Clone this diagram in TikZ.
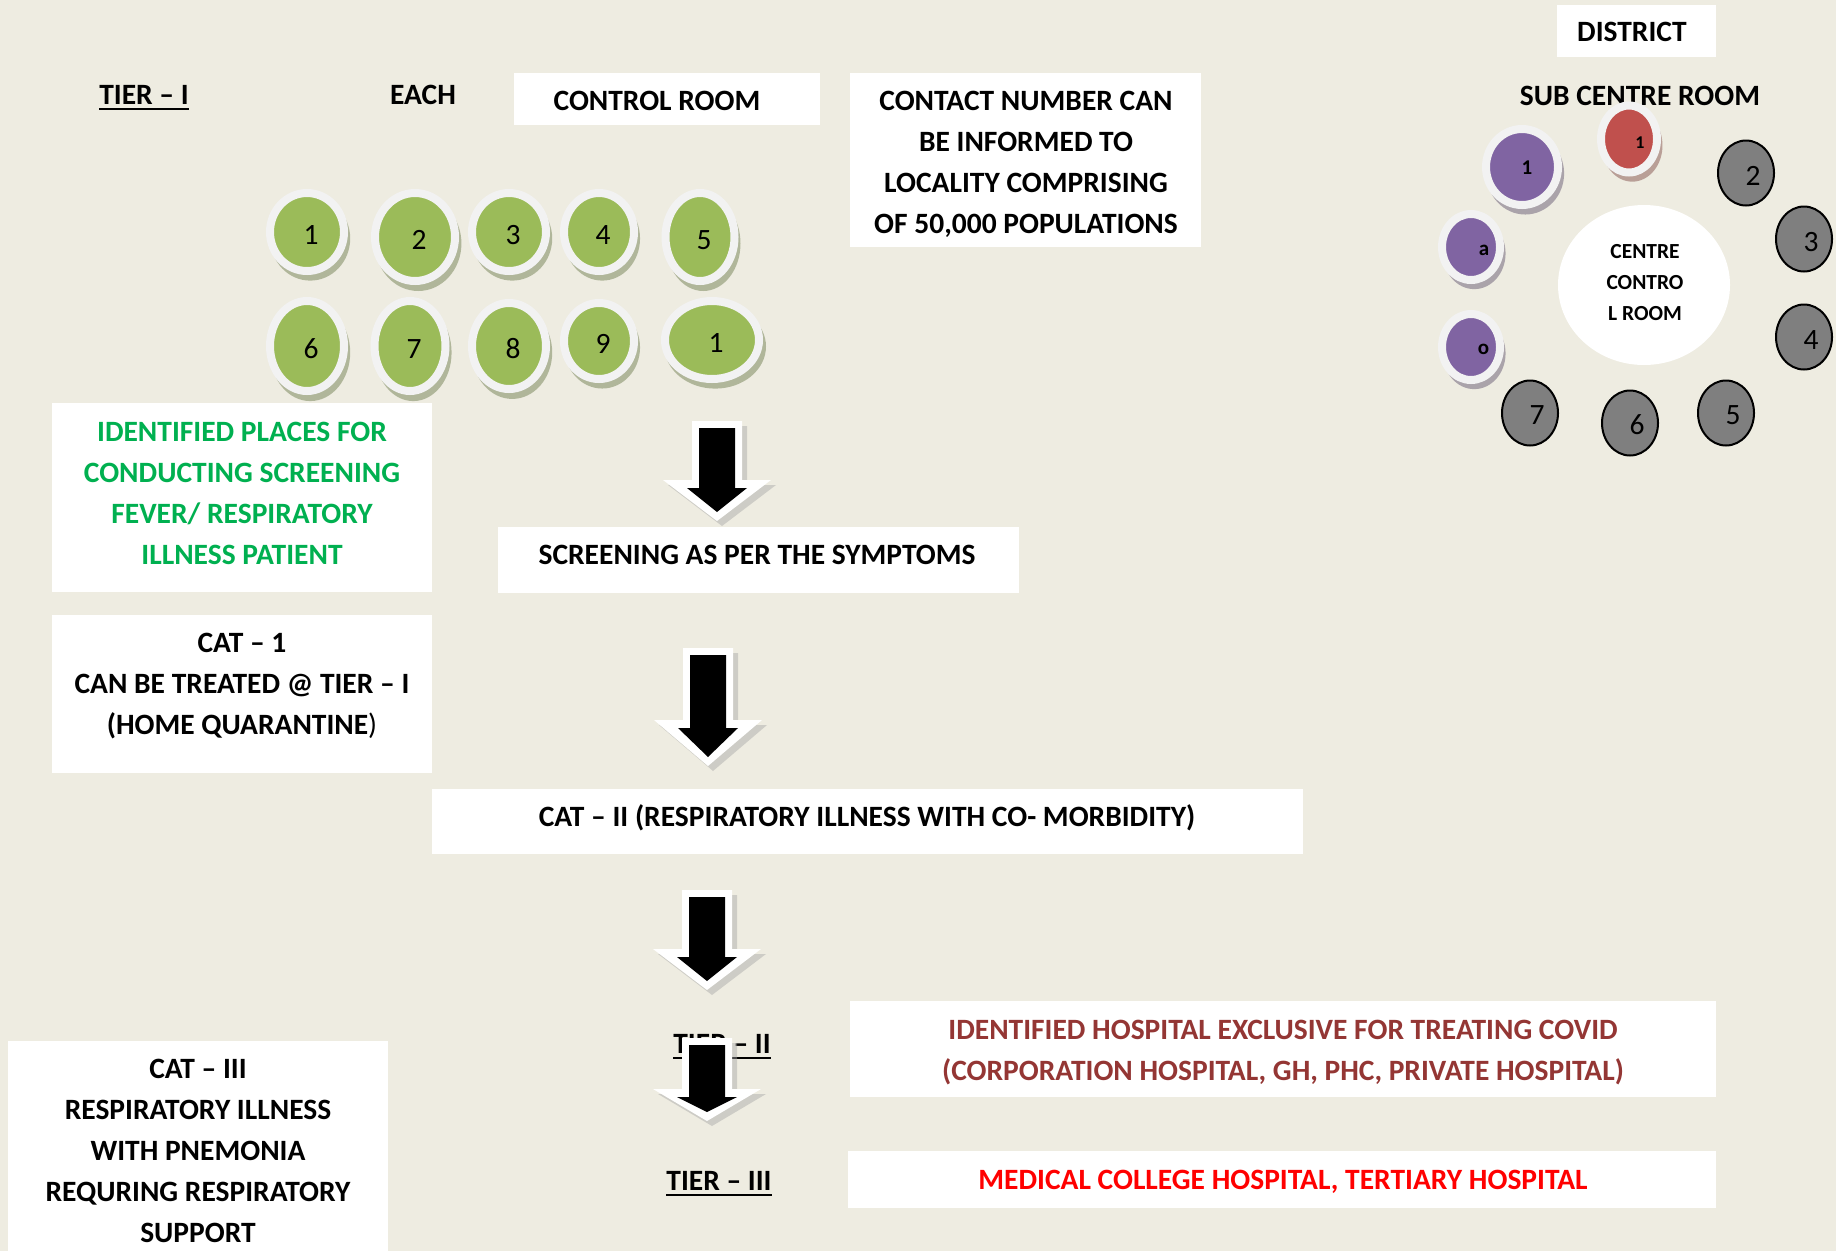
\documentclass[tikz,border=0pt]{standalone}
\usepackage{fontspec}
\setmainfont{Carlito}
\usetikzlibrary{shapes.geometric,shadows}
\definecolor{bgc}{HTML}{EEECE1}
\definecolor{cgreen}{HTML}{9BBB59}
\definecolor{cring}{HTML}{F2F2F2}
\definecolor{cpurple}{HTML}{8064A2}
\definecolor{cred}{HTML}{C0504D}
\definecolor{cgrey}{HTML}{7F7F7F}
\definecolor{tgreen}{HTML}{00B050}
\definecolor{tdred}{HTML}{943634}
\definecolor{tred}{HTML}{FF0000}
\newcommand\lines[1]{\begin{tabular}[t]{@{}c@{}}#1\end{tabular}}
\newcommand\dg[3]{\raisebox{-#2pt}[\height][\depth]{\hspace*{#1pt}#3}}
\newcommand\blkarrow[4]{%
  \fill[gray!70, opacity=0.45] ({#1-25+5},{#2-7+5}) -- ({#1+25+5},{#2-7+5}) -- ({#1+25+5},{#3-8+5}) -- ({#1+54+5},{#3-8+5}) -- ({#1+5},{#4+9+5}) -- ({#1-54+5},{#3-8+5}) -- ({#1-25+5},{#3-8+5}) -- cycle;
  \fill[white] ({#1-25},{#2-7}) -- ({#1+25},{#2-7}) -- ({#1+25},{#3-8}) -- ({#1+54},{#3-8}) -- (#1,{#4+9}) -- ({#1-54},{#3-8}) -- ({#1-25},{#3-8}) -- cycle;
  \fill[black] ({#1-18},#2) -- ({#1+18},#2) -- ({#1+18},#3) -- ({#1+30},#3) -- (#1,#4) -- ({#1-30},#3) -- ({#1-18},#3) -- cycle;
}
\tikzset{
  box/.style={rectangle, fill=white, inner sep=0pt},
  txt/.style={font=\fontsize{29.5}{41}\selectfont\bfseries, inner sep=0pt, anchor=base},
  uline/.style={line width=2pt, black},
  ringdot/.style={ellipse, draw=cring, line width=8pt, inner sep=0pt},
  gdot/.style={ringdot, fill=cgreen, font=\fontsize{29.5}{30}\selectfont,
    drop shadow={shadow xshift=3pt, shadow yshift=-6pt, shadow scale=1.08, fill=cgreen!55!black, opacity=0.4}},
  pdot/.style={ringdot, fill=cpurple, font=\fontsize{21}{22}\selectfont\bfseries,
    drop shadow={shadow xshift=3pt, shadow yshift=-6pt, shadow scale=1.08, fill=cpurple!55!black, opacity=0.4}},
  rdot/.style={ringdot, fill=cred, font=\fontsize{18}{20}\selectfont\bfseries,
    drop shadow={shadow xshift=3pt, shadow yshift=-6pt, shadow scale=1.08, fill=cred!55!black, opacity=0.4}},
  greydot/.style={ellipse, draw=black, line width=2pt, fill=cgrey, inner sep=0pt,
    minimum width=56pt, minimum height=65pt, font=\fontsize{29.5}{30}\selectfont},
}
\begin{document}
\begin{tikzpicture}[x=1pt,y=-1pt]
\useasboundingbox (0,0) rectangle (1836,1251);
\fill[bgc] (0,0) rectangle (1836,1251);

% ---------- boxes ----------
\node[box, minimum width=306pt, minimum height=52pt] (ctrlbox) at (667,99) {};
\node[box, minimum width=351pt, minimum height=174pt] (contactbox) at (1025.5,160) {};
\node[box, minimum width=159pt, minimum height=52pt] (distbox) at (1636.5,31) {};
\node[box, minimum width=380pt, minimum height=189pt] (greenbox) at (242,497.5) {};
\node[box, minimum width=380pt, minimum height=158pt] (cat1box) at (242,694) {};
\node[box, minimum width=521pt, minimum height=66pt] (screenbox) at (758.5,560) {};
\node[box, minimum width=871pt, minimum height=65pt] (cat2box) at (867.5,821.5) {};
\node[box, minimum width=380pt, minimum height=212pt] (cat3box) at (198,1147) {};
\node[box, minimum width=866pt, minimum height=96pt] (hospbox) at (1283,1049) {};
\node[box, minimum width=868pt, minimum height=57pt] (medbox) at (1282,1179.5) {};

% ---------- texts ----------
\node[txt] (tier1) at (144,104.5) {TIER – I};
\draw[uline] ([yshift=-4pt]tier1.base west) -- ([yshift=-4pt]tier1.base east);
\node[txt] (each) at (423,104.5) {EACH};
\node[txt] (ctrl) at (657,110.5) {CONTROL ROOM};
\node[txt] (contact) at (1026,110.5) {\lines{CONTACT NUMBER CAN\\BE INFORMED TO\\LOCALITY COMPRISING\\OF 50,000 POPULATIONS}};
\node[txt] (district) at (1632,41.5) {DISTRICT};
\node[txt] (subcentre) at (1640,105.5) {SUB CENTRE ROOM};
\node[txt, text=tgreen] (places) at (242,441) {\lines{IDENTIFIED PLACES FOR\\CONDUCTING SCREENING\\FEVER/ RESPIRATORY\\ILLNESS PATIENT}};
\node[txt] (screen) at (757,564) {SCREENING AS PER THE SYMPTOMS};
\node[txt] (cat1) at (242,652) {\lines{CAT – 1\\CAN BE TREATED @ TIER – I\\(HOME QUARANTINE{\mdseries)}}};
\node[txt] (cat2) at (867,826.5) {CAT – II (RESPIRATORY ILLNESS WITH CO- MORBIDITY)};
\node[txt] (cat3) at (198,1078.5) {\lines{CAT – III\\RESPIRATORY ILLNESS\\WITH PNEMONIA\\REQURING RESPIRATORY\\SUPPORT}};
\node[txt, text=tdred] (hosp) at (1283,1039.5) {\lines{IDENTIFIED HOSPITAL EXCLUSIVE FOR TREATING COVID\\(CORPORATION HOSPITAL, GH, PHC, PRIVATE HOSPITAL)}};
\node[txt, text=tred] (med) at (1283,1189.5) {MEDICAL COLLEGE HOSPITAL, TERTIARY HOSPITAL};
\node[txt] (tier2) at (722,1053) {TIER – II};
\draw[uline] ([yshift=-5pt]tier2.base west) -- ([yshift=-5pt]tier2.base east);
\node[txt] (tier3) at (719,1190) {TIER – III};
\draw[uline] ([yshift=-5pt]tier3.base west) -- ([yshift=-5pt]tier3.base east);

% ---------- green circles ----------
\node[gdot, minimum width=74pt, minimum height=78pt] (g1) at (307,232) {\dg{8}{3}{1}};
\node[gdot, minimum width=80pt, minimum height=88pt] (g2) at (415,237) {\dg{8}{3}{2}};
\node[gdot, minimum width=74pt, minimum height=78pt] (g3) at (509,232) {\dg{8}{3}{3}};
\node[gdot, minimum width=70pt, minimum height=78pt] (g4) at (599,232) {\dg{8}{3}{4}};
\node[gdot, minimum width=69pt, minimum height=88pt] (g5) at (700,237) {\dg{8}{3}{5}};
\node[gdot, minimum width=74pt, minimum height=90pt] (g6) at (307,346) {\dg{8}{3}{6}};
\node[gdot, minimum width=71pt, minimum height=90pt] (g7) at (410,346) {\dg{8}{3}{7}};
\node[gdot, minimum width=74pt, minimum height=86pt] (g8) at (509,346) {\dg{8}{3}{8}};
\node[gdot, minimum width=70pt, minimum height=76pt] (g9) at (599,341) {\dg{8}{3}{9}};
\node[gdot, minimum width=94pt, minimum height=78pt] (g10) at (712,340) {\dg{8}{3}{1}};

% ---------- arrows ----------
\blkarrow{717}{428}{488}{512}
\blkarrow{708}{655}{728}{757}
\blkarrow{707}{897}{957}{981}
\blkarrow{707}{1045}{1097}{1112}

% ---------- right cluster ----------
\node[ellipse, fill=white, inner sep=0pt, minimum width=172pt, minimum height=160pt] (centre) at (1644,285) {};
\node[txt, font=\fontsize{21.5}{31}\selectfont\bfseries] (centretxt) at (1645,258) {\lines{CENTRE\\CONTRO\\L ROOM}};
\node[pdot, minimum width=72pt, minimum height=76pt] (p1) at (1522,167) {\dg{10}{1}{1}};
\node[rdot, minimum width=56pt, minimum height=67pt] (r1) at (1629,139) {\dg{22}{4}{1}};
\node[pdot, minimum width=58pt, minimum height=66pt] (pa) at (1471,247) {\dg{26}{3}{a}};
\node[pdot, minimum width=58pt, minimum height=66pt] (po) at (1471,347) {\dg{25}{2}{o}};
\node[greydot] (k2) at (1746,173) {\dg{14}{3}{2}};
\node[greydot] (k3) at (1804,239) {\dg{14}{3}{3}};
\node[greydot] (k4) at (1804,337) {\dg{14}{3}{4}};
\node[greydot] (k5) at (1726,413) {\dg{14}{2}{5}};
\node[greydot] (k6) at (1630,423) {\dg{14}{2}{6}};
\node[greydot] (k7) at (1530,413) {\dg{14}{2}{7}};
\end{tikzpicture}
\end{document}
